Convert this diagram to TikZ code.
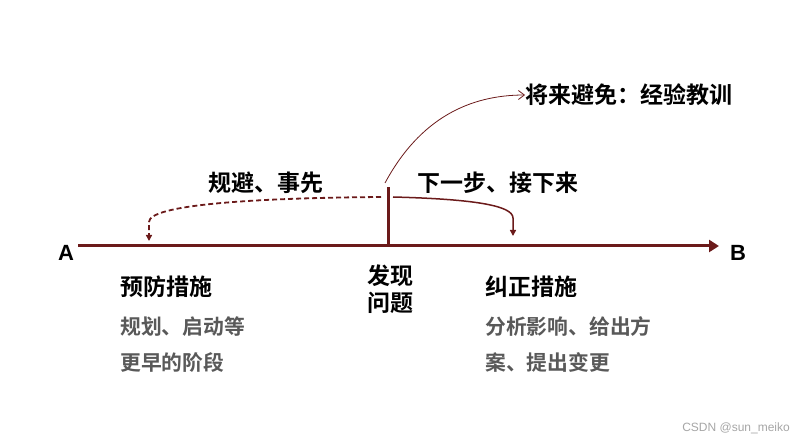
\documentclass[tikz,border=0pt]{standalone}
\usepackage{fontspec}
\newfontfamily\cjk{Noto Sans CJK SC}[BoldFont={Noto Sans CJK SC Bold}]
\setsansfont{Liberation Sans}
\usetikzlibrary{arrows.meta}
\definecolor{dred}{HTML}{6B1A1A}
\definecolor{tgray}{HTML}{595959}
\tikzset{
  lbl/.style={font=\cjk\bfseries\fontsize{23}{26}\selectfont, text=black, inner sep=0pt, anchor=west},
  sub/.style={font=\cjk\bfseries\fontsize{20.8}{24}\selectfont, text=tgray, inner sep=0pt, anchor=west},
  ab/.style={font=\sffamily\bfseries\fontsize{22}{24}\selectfont, inner sep=0pt},
  conn/.style={draw=dred, line width=1.5pt}
}
\begin{document}
\begin{tikzpicture}[x=1pt,y=-1pt]
\useasboundingbox (0,0) rectangle (806,446);
% main axis
\coordinate (start) at (78,246);
\coordinate (end) at (719,246);
\draw[draw=dred, line width=3pt, -{Triangle[length=10pt,width=12pt]}] (start) -- (end);
\coordinate (tb) at (388,247);
\coordinate (tt) at (388,187);
\draw[draw=dred, line width=3pt] (tb) -- (tt);
\node[ab] (A) at (66,253) {A};
\node[ab] (B) at (738,253) {B};
% arrows
\coordinate (ds) at (381,197);
\coordinate (de) at (149,241);
\draw[conn, line width=1.8pt, dash pattern=on 5pt off 3pt, -{Triangle[length=6pt,width=6pt]}]
  (ds) .. controls (250,198) and (149,205) .. (149,222) -- (de);
\coordinate (ss) at (393,197);
\coordinate (se) at (513,236);
\draw[conn, -{Triangle[length=6pt,width=6pt]}]
  (ss) .. controls (470,199) and (513,205) .. (513,218) -- (se);
\coordinate (cs) at (385,183);
\node[lbl] (fut) at (525,95) {将来避免：经验教训};
\draw[draw=dred, line width=0.8pt, -{Straight Barb[length=6pt,width=9pt]}]
  (cs) .. controls (420,118) and (470,95) .. (fut.west);
\node[lbl] (avoid) at (208,183) {规避、事先};
\node[lbl] (next) at (417,183) {下一步、接下来};
\node[lbl, anchor=center, align=center, font=\cjk\bfseries\fontsize{23}{27}\selectfont] (find) at (390,289) {发现\\问题};
\node[lbl] (prev) at (120,287) {预防措施};
\node[sub] (p1) at (120,327) {规划、启动等};
\node[sub] (p2) at (120,363) {更早的阶段};
\node[lbl] (corr) at (485,287) {纠正措施};
\node[sub] (c1) at (485,327) {分析影响、给出方};
\node[sub] (c2) at (485,363) {案、提出变更};
\node[font=\fontspec{Liberation Sans}\fontsize{12}{14}\selectfont, text=gray!70, inner sep=0pt, anchor=east] (wm) at (790,428) {CSDN @sun\_meiko};
\end{tikzpicture}
\end{document}
